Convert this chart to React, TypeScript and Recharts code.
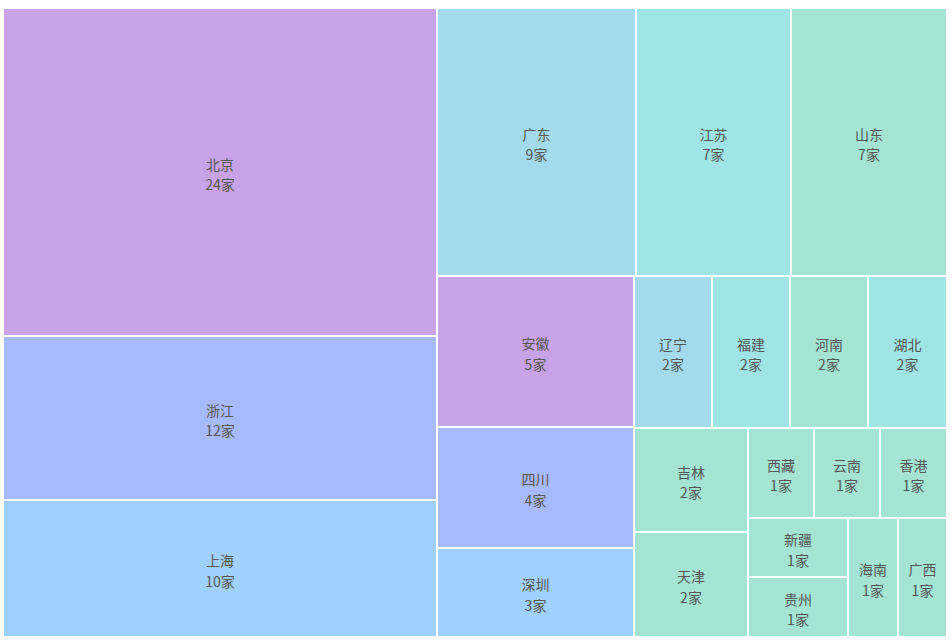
import { Treemap } from 'recharts';

// 各省市数量（家）
const provinces = [
  '北京', '浙江', '上海', '广东', '江苏', '山东', '安徽', '四川', '深圳',
  '辽宁', '福建', '河南', '湖北', '吉林', '天津',
  '西藏', '云南', '香港', '新疆', '贵州', '海南', '广西',
];
const counts = [24, 12, 10, 9, 7, 7, 5, 4, 3, 2, 2, 2, 2, 2, 2, 1, 1, 1, 1, 1, 1, 1];
const unit = '家';

// 色板（按单元格顺序）
const PURPLE = '#c9a3e7';
const INDIGO = '#a8bafe';
const SKY = '#a0d0fe';
const BLUE_CYAN = '#a3dbec';
const CYAN = '#a0e5e5';
const MINT = '#a3e4d3';
const cellColors = [
  PURPLE, INDIGO, SKY, BLUE_CYAN, CYAN, MINT, PURPLE, INDIGO, SKY,
  BLUE_CYAN, CYAN, MINT, CYAN, MINT, MINT,
  MINT, MINT, MINT, MINT, MINT, MINT, MINT,
];

const data = provinces.map((name, i) => ({
  name,
  value: counts[i],
  color: cellColors[i],
}));

const labelFont = '"Noto Sans CJK SC", "Noto Sans", sans-serif';

function Cell(props: any) {
  const { x, y, width, height, depth, name, value, color } = props;
  if (!depth) return <g />;
  const cx = x + width / 2;
  const cy = y + height / 2;
  return (
    <g>
      <rect x={x} y={y} width={width} height={height} fill={color} stroke="#fff" strokeWidth={2} />
      <text x={cx} y={cy - 2.5} textAnchor="middle" fill="#555" stroke="none" fontSize={14} fontFamily={labelFont}>
        {name}
      </text>
      <text x={cx} y={cy + 18} textAnchor="middle" fill="#555" stroke="none" fontSize={14} fontFamily={labelFont}>
        {value + unit}
      </text>
    </g>
  );
}

export default function App() {
  return (
    <div style={{ position: 'absolute', left: 3, top: 8, width: 944, height: 629 }}>
      <Treemap
        width={944}
        height={629}
        data={data}
        dataKey="value"
        nameKey="name"
        stroke="#fff"
        isAnimationActive={false}
        content={<Cell />}
      />
    </div>
  );
}
